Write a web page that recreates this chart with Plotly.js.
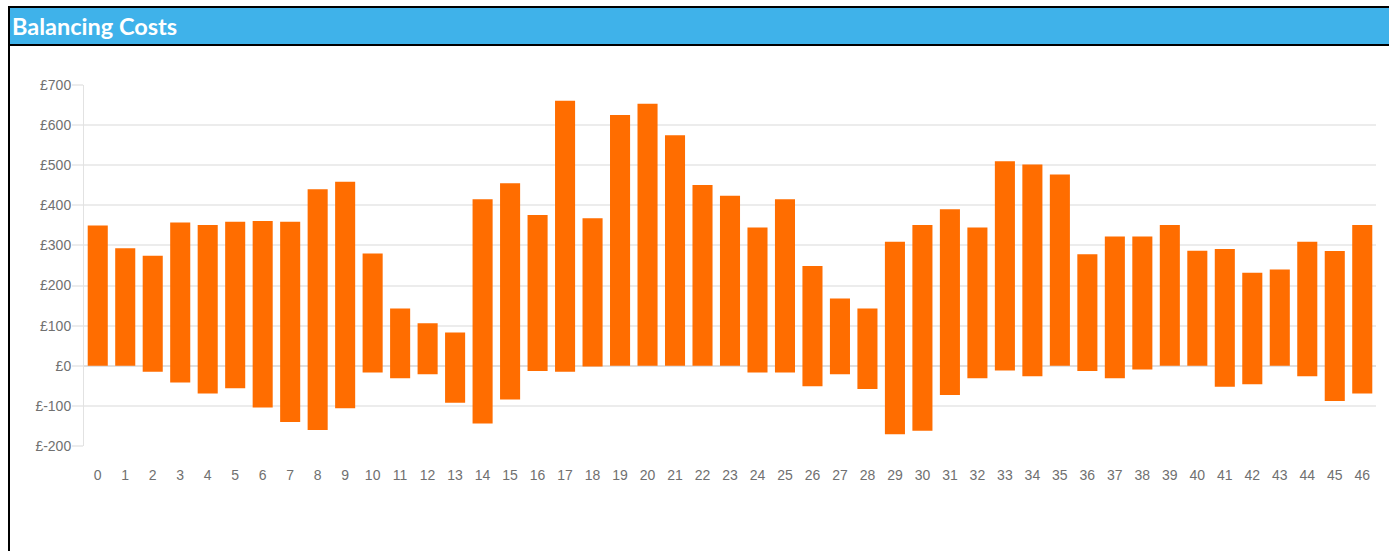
<!DOCTYPE html>
<html>
<head>
<meta charset="utf-8">
<script src="https://cdn.plot.ly/plotly-3.0.1.min.js"></script>
<style>
  html, body { margin: 0; padding: 0; background: #fff; }
  #wrap { position: relative; width: 1389px; height: 551px; overflow: hidden; background: #fff; }
  #frame { position: absolute; left: 8px; top: 6px; width: 1381px; height: 545px;
           border-left: 2px solid #000; border-top: 2px solid #000; box-sizing: border-box; }
  #header { position: absolute; left: 10px; top: 8px; width: 1379px; height: 38px;
            background: #3fb2ea; border-bottom: 2.5px solid #000; box-sizing: border-box; }
  #chart { position: absolute; left: 0; top: 0; width: 1389px; height: 551px; }
</style>
</head>
<body>
<div id="wrap">
  <div id="frame"></div>
  <div id="header"></div>
  <div id="chart"></div>
</div>
<script>
// Settlement periods (x categories)
const categories = ['0','1','2','3','4','5','6','7','8','9','10','11','12','13','14','15','16','17','18','19','20','21','22','23','24','25','26','27','28','29','30','31','32','33','34','35','36','37','38','39','40','41','42','43','44','45','46'];

// Top of each bar (£)
const highValues = [350, 293, 274, 357, 351, 359, 361, 359, 440, 459, 280, 143, 106, 83, 415, 455, 376, 661, 368, 625, 653, 575, 451, 424, 345, 415, 249, 168, 143, 309, 351, 390, 345, 510, 502, 477, 278, 322, 322, 351, 287, 291, 232, 240, 309, 286, 351];

// Bottom of each bar (£)
const lowValues = [0, 0, -15, -42, -69, -56, -104, -140, -160, -106, -17, -31, -21, -92, -144, -84, -13, -15, -2, 0, 0, 0, 0, 0, -17, -17, -51, -21, -58, -171, -162, -73, -31, -12, -26, 0, -13, -31, -9, 0, 0, -52, -46, 0, -26, -88, -69];

// Y tick labels
const yTickVals = [-200, -100, 0, 100, 200, 300, 400, 500, 600, 700];
const yTickText = ['£-200', '£-100', '£0', '£100', '£200', '£300', '£400', '£500', '£600', '£700'];

const spans = highValues.map((h, i) => h - lowValues[i]);

const trace = {
  type: 'bar',
  x: categories,
  y: spans,
  base: lowValues,
  marker: { color: '#ff6d00', line: { width: 0 } },
  hoverinfo: 'skip'
};

const tickFont = { family: '"Liberation Sans", Arial, sans-serif', size: 14, color: '#707070' };

const layout = {
  width: 1389,
  height: 551,
  paper_bgcolor: 'rgba(0,0,0,0)',
  plot_bgcolor: 'rgba(0,0,0,0)',
  margin: { l: 84, r: 13, t: 85, b: 105, pad: 0 },
  showlegend: false,
  bargap: 0.27,
  title: {
    text: '<b>Balancing Costs</b>',
    font: { family: 'Lato, "Open Sans", sans-serif', size: 23.5, color: '#ffffff' },
    xref: 'container', yref: 'container',
    x: 12 / 1389, xanchor: 'left',
    y: 1 - 27 / 551, yanchor: 'middle'
  },
  xaxis: {
    type: 'category',
    showgrid: false,
    showline: false,
    zeroline: false,
    ticks: '',
    ticklabelstandoff: 19,
    tickfont: tickFont,
    fixedrange: true
  },
  yaxis: {
    range: [-200, 700],
    tickvals: yTickVals,
    ticktext: yTickText,
    showgrid: true,
    gridcolor: '#ececec',
    gridwidth: 2,
    zeroline: true,
    zerolinecolor: '#e0e0e0',
    zerolinewidth: 2,
    showline: true,
    linecolor: '#e2e2e2',
    linewidth: 1,
    ticks: 'outside',
    ticklen: 11,
    tickwidth: 2,
    tickcolor: '#ececec',
    ticklabelstandoff: -2,
    tickfont: tickFont,
    fixedrange: true
  }
};

Plotly.newPlot('chart', [trace], layout, { displayModeBar: false, staticPlot: true });
</script>
</body>
</html>
